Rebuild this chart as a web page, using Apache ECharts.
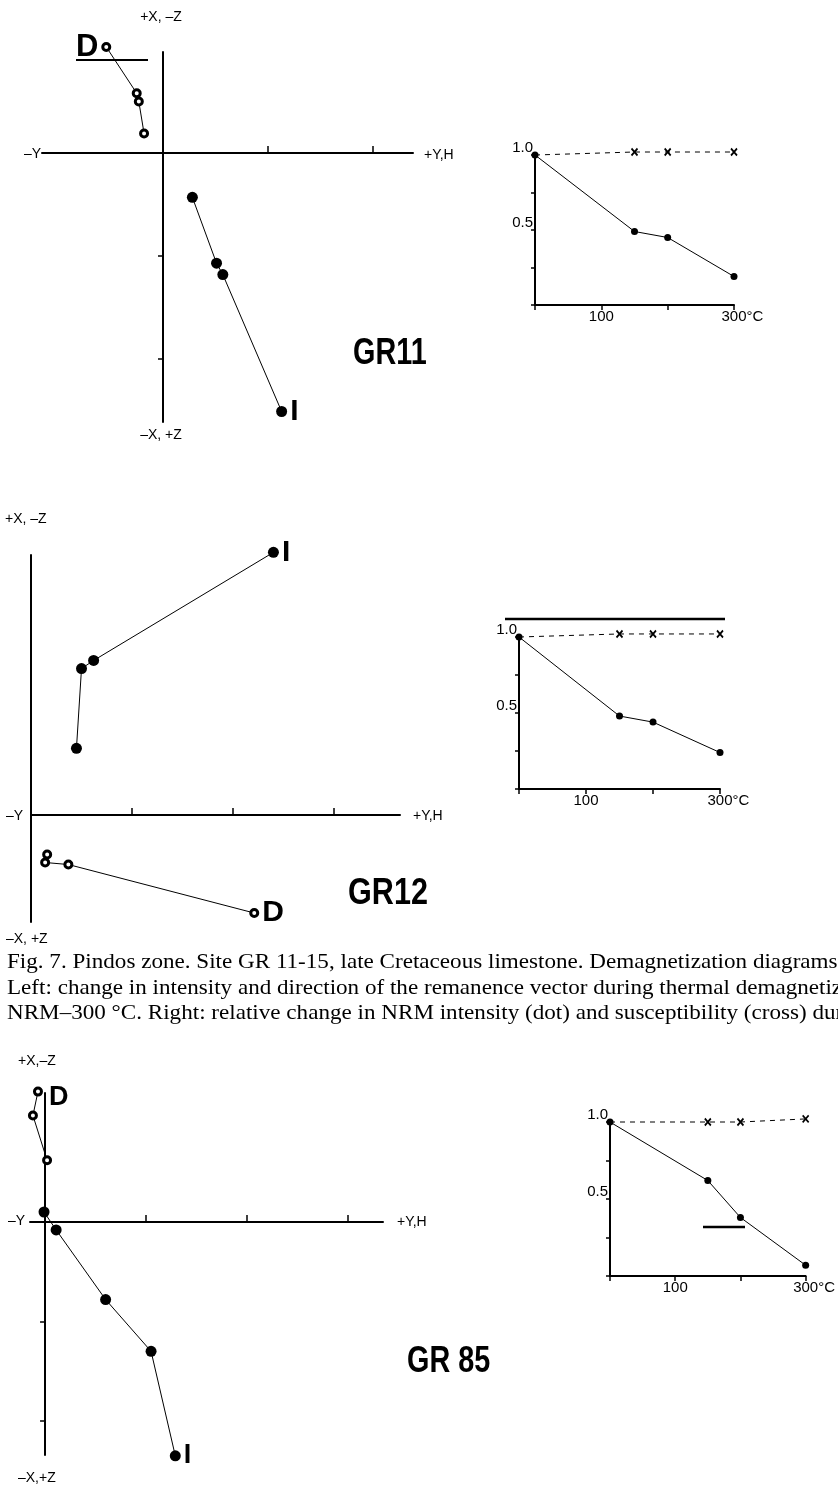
<!DOCTYPE html>
<html>
<head>
<meta charset="utf-8">
<script src="https://cdn.jsdelivr.net/npm/echarts@6/dist/echarts.min.js"></script>
<style>
html, body { margin: 0; padding: 0; background: #fff; }
#chart { width: 838px; height: 1491px; }
</style>
</head>
<body>
<div id="chart"></div>
<script>
// ---- Orthogonal (Zijderveld) projections, in axis units ----
// horizontal projection (open circles, D) and vertical projection (filled, I); first point = NRM
const gr11Horiz = [[-0.54, 1.03], [-0.25, 0.58], [-0.23, 0.50], [-0.18, 0.19]];
const gr11Vert  = [[1.13, -2.51], [0.57, -1.18], [0.51, -1.07], [0.28, -0.43]];

const gr12Horiz = [[2.21, -0.97], [0.37, -0.49], [0.14, -0.47], [0.16, -0.39]];
const gr12Vert  = [[2.40, 2.60], [0.62, 1.53], [0.50, 1.45], [0.45, 0.66]];

const gr85Horiz = [[-0.07, 1.31], [-0.12, 1.07], [0.02, 0.62]];
const gr85Vert  = [[1.29, -2.35], [1.05, -1.30], [0.60, -0.78], [0.11, -0.08], [-0.01, 0.10]];

// ---- Relative NRM intensity and susceptibility versus temperature ----
const temps   = [0, 150, 200, 300];
const gr11Nrm = [1.0, 0.49, 0.45, 0.19];
const gr11Sus = [1.0, 1.02, 1.02, 1.02];
const gr12Nrm = [1.0, 0.48, 0.44, 0.24];
const gr12Sus = [1.0, 1.02, 1.02, 1.02];
const gr85Nrm = [1.0, 0.62, 0.38, 0.07];
const gr85Sus = [1.0, 1.0, 1.0, 1.02];

// tick labels
const tempTickLabels = [100, 300];
const ratioTickLabels = [0.5, 1.0];
const siteNames = ['GR11', 'GR12', 'GR 85'];

const SANS = '"Liberation Sans", Arial, Helvetica, sans-serif';
const SERIF = '"Liberation Serif", "Times New Roman", serif';

// panel geometry
const zPanels = [
  { grid: { left: 42, top: 52, width: 371, height: 370 }, x: [-1.152, 2.381], y: [-2.612, 0.981],
    xt: [1, 2], yt: [-1, -2], horiz: gr11Horiz, vert: gr11Vert, dPos: 'left', dSize: 31, iSize: 30, dOff: [0, 0] },
  { grid: { left: 31, top: 555, width: 369, height: 367 }, x: [0, 3.653], y: [-1.059, 2.574],
    xt: [1, 2, 3], yt: [], horiz: gr12Horiz, vert: gr12Vert, dPos: 'right', dSize: 30, iSize: 30, dOff: [0, 0] },
  { grid: { left: 30, top: 1093, width: 353, height: 362 }, x: [-0.149, 3.347], y: [-2.342, 1.296],
    xt: [1, 2, 3], yt: [-1, -2], horiz: gr85Horiz, vert: gr85Vert, dPos: 'right', dSize: 27, iSize: 27, dOff: [3, 6] }
];
const sPanels = [
  { grid: { left: 535, top: 155, width: 199, height: 150 }, nrm: gr11Nrm, sus: gr11Sus },
  { grid: { left: 519, top: 637, width: 201, height: 152 }, nrm: gr12Nrm, sus: gr12Sus },
  { grid: { left: 610, top: 1122, width: 197, height: 154 }, nrm: gr85Nrm, sus: gr85Sus }
];

const grids = [], xAxes = [], yAxes = [], series = [];
const black = '#000';

zPanels.forEach((p, i) => {
  grids.push(p.grid);
  xAxes.push({
    gridIndex: i, type: 'value', min: p.x[0], max: p.x[1],
    axisLine: { show: true, onZero: true, lineStyle: { color: black, width: 2 } },
    axisTick: { show: true, inside: true, length: 7, customValues: p.xt, lineStyle: { color: black, width: 1.5 } },
    axisLabel: { show: false }, splitLine: { show: false }
  });
  yAxes.push({
    gridIndex: i, type: 'value', min: p.y[0], max: p.y[1],
    axisLine: { show: true, onZero: true, lineStyle: { color: black, width: 2 } },
    axisTick: { show: p.yt.length > 0, inside: false, length: 5, customValues: p.yt, lineStyle: { color: black, width: 1.5 } },
    axisLabel: { show: false }, splitLine: { show: false }
  });
  const lblStyle = (txt, size, pos, off) => ({
    show: true, formatter: txt, position: pos, distance: 3, offset: off || [0, 0],
    fontFamily: SANS, fontWeight: 'bold', fontSize: size, color: black
  });
  series.push({
    type: 'line', xAxisIndex: i, yAxisIndex: i, clip: false, z: 3,
    symbol: 'circle', symbolSize: 11, showAllSymbol: true,
    itemStyle: { color: black },
    lineStyle: { color: black, width: 1 },
    data: p.vert.map((v, k) => k === 0 ? { value: v, label: lblStyle('I', p.iSize, 'right') } : v)
  });
  series.push({
    type: 'line', xAxisIndex: i, yAxisIndex: i, clip: false, z: 4,
    symbol: 'circle', symbolSize: 7, showAllSymbol: true,
    itemStyle: { color: '#fff', borderColor: black, borderWidth: 3 },
    lineStyle: { color: black, width: 1 },
    data: p.horiz.map((v, k) => k === 0 ? { value: v, label: lblStyle('D', p.dSize, p.dPos, p.dOff) } : v)
  });
});

sPanels.forEach((p, j) => {
  const i = j + 3;
  grids.push(p.grid);
  xAxes.push({
    gridIndex: i, type: 'value', min: 0, max: 300, interval: 100,
    axisLine: { show: true, onZero: false, lineStyle: { color: black, width: 2 } },
    axisTick: { show: true, inside: false, length: 5, lineStyle: { color: black, width: 1.5 } },
    axisLabel: {
      show: true, customValues: tempTickLabels, margin: 4,
      fontFamily: SANS, fontSize: 15, color: black,
      formatter: v => v === 300 ? '{g|°C}300°C' : String(v),
      rich: { g: { color: 'rgba(0,0,0,0)', fontFamily: SANS, fontSize: 15 } }
    },
    splitLine: { show: false }
  });
  yAxes.push({
    gridIndex: i, type: 'value', min: 0, max: 1, interval: 0.25,
    axisLine: { show: true, onZero: false, lineStyle: { color: black, width: 2 } },
    axisTick: { show: true, inside: false, length: 4, lineStyle: { color: black, width: 1.5 } },
    axisLabel: {
      show: true, customValues: ratioTickLabels, margin: 2, verticalAlign: 'bottom',
      fontFamily: SANS, fontSize: 15, color: black,
      formatter: v => v.toFixed(1)
    },
    splitLine: { show: false }
  });
  // susceptibility (crosses, dashed)
  series.push({
    type: 'line', xAxisIndex: i, yAxisIndex: i, clip: false, z: 3,
    symbol: 'path://M0,0L10,10M10,0L0,10', symbolSize: [6, 7], showAllSymbol: true,
    itemStyle: { color: 'rgba(0,0,0,0)', borderColor: black, borderWidth: 1.8 },
    lineStyle: { color: black, width: 1, type: [5, 5] },
    data: temps.map((t, k) => k === 0 ? { value: [t, p.sus[k]], symbol: 'none' } : [t, p.sus[k]])
  });
  // NRM intensity (dots, solid)
  series.push({
    type: 'line', xAxisIndex: i, yAxisIndex: i, clip: false, z: 4,
    symbol: 'circle', symbolSize: 7, showAllSymbol: true,
    itemStyle: { color: black },
    lineStyle: { color: black, width: 1 },
    data: temps.map((t, k) => [t, p.nrm[k]])
  });
});

// axis direction labels, site names, rules and caption
const txt = (text, x, y, align, font, scaleX) => ({
  type: 'text', x, y, silent: true, scaleX: scaleX || 1,
  style: { text, font: font || ('14px ' + SANS), fill: black, align: align || 'left', verticalAlign: 'middle' }
});
const rule = (x1, y1, x2, y2, w) => ({
  type: 'line', silent: true, shape: { x1, y1, x2, y2 }, style: { stroke: black, lineWidth: w }
});
const titleFont = 'bold 36px ' + SANS;
const captionFont = '22px ' + SERIF;
const captionScale = 1.05;

const graphics = [
  // GR11
  txt('+X, –Z', 161, 17, 'center'),
  txt('–Y', 41, 154, 'right'),
  txt('+Y,H', 424, 155, 'left'),
  txt('–X, +Z', 161, 435, 'center'),
  txt(siteNames[0], 353, 354, 'left', titleFont, 0.8),
  rule(76, 60, 148, 60, 2),
  // GR12
  txt('+X, –Z', 5, 519, 'left'),
  txt('–Y', 6, 816, 'left'),
  txt('+Y,H', 413, 816, 'left'),
  txt('–X, +Z', 6, 939, 'left'),
  txt(siteNames[1], 348, 894, 'left', titleFont, 0.85),
  rule(505, 619, 725, 619, 2.5),
  // caption
  txt('Fig. 7. Pindos zone. Site GR 11-15, late Cretaceous limestone. Demagnetization diagrams', 7, 962, 'left', captionFont, captionScale),
  txt('Left: change in intensity and direction of the remanence vector during thermal demagnetization', 7, 988, 'left', captionFont, captionScale),
  txt('NRM–300 °C. Right: relative change in NRM intensity (dot) and susceptibility (cross) during', 7, 1013, 'left', captionFont, captionScale),
  // GR85
  txt('+X,–Z', 18, 1061, 'left'),
  txt('–Y', 8, 1221, 'left'),
  txt('+Y,H', 397, 1222, 'left'),
  txt('–X,+Z', 18, 1478, 'left'),
  txt(siteNames[2], 407, 1362, 'left', titleFont, 0.8),
  rule(703, 1227, 745, 1227, 2.5)
];

const chart = echarts.init(document.getElementById('chart'), null, { renderer: 'canvas' });
chart.setOption({
  animation: false,
  backgroundColor: '#fff',
  grid: grids,
  xAxis: xAxes,
  yAxis: yAxes,
  series: series,
  graphic: graphics
});
</script>
</body>
</html>
